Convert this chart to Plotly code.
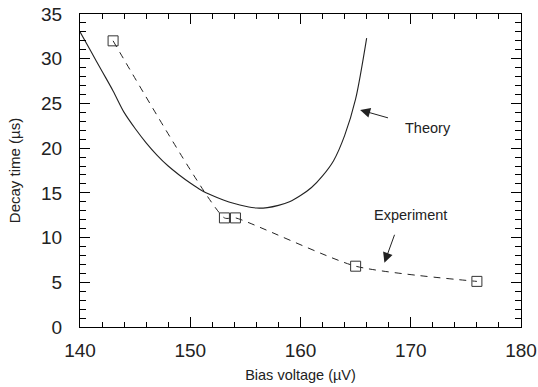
import plotly.graph_objects as go

# Theoretical decay time vs bias voltage (solid curve)
theory_bias = [140, 141, 142, 143, 144, 145, 146, 147, 148, 149, 150, 151, 152,
               153, 154, 155, 156, 157, 158, 159, 160, 161, 162, 163, 164, 165, 166]
theory_decay = [33.0, 30.8, 28.6, 26.4, 24.0, 22.2, 20.6, 19.2, 18.0, 17.0, 16.1, 15.3, 14.7,
                14.2, 13.8, 13.5, 13.3, 13.35, 13.6, 14.0, 14.7, 15.6, 16.9, 18.6, 21.4, 25.5, 32.3]

# Measured decay times (open squares, dashed)
exp_bias = [143.0, 153.1, 154.1, 165.0, 176.0]
exp_decay = [32.0, 12.2, 12.2, 6.8, 5.1]

# Axis ranges and tick spacing
x_range = [140, 180]
y_range = [0, 35]
x_major, x_minor = 10, 2
y_major, y_minor = 5, 1

FONT = "Liberation Sans, Arial, sans-serif"
INK = "#222222"

fig = go.Figure()

fig.add_trace(go.Scatter(
    x=theory_bias, y=theory_decay, mode="lines",
    line=dict(color=INK, width=1.1, shape="spline", smoothing=0.8),
    showlegend=False, hoverinfo="skip",
))

fig.add_trace(go.Scatter(
    x=exp_bias, y=exp_decay, mode="lines+markers",
    line=dict(color=INK, width=1, dash="7px,6px", shape="spline", smoothing=0.6),
    marker=dict(symbol="square-open", size=10, color="#333333", line=dict(width=1)),
    showlegend=False, hoverinfo="skip",
))

# Curve labels with arrows
fig.add_annotation(x=165.41, y=24.27, ax=168.07, ay=23.34, axref="x", ayref="y",
                   xref="x", yref="y", text="", showarrow=True,
                   arrowhead=2, arrowsize=2, arrowwidth=1, arrowcolor=INK)
fig.add_annotation(x=171.6, y=22.3, xref="x", yref="y", text="Theory",
                   showarrow=False, font=dict(family=FONT, size=14.5, color=INK))

fig.add_annotation(x=167.61, y=7.19, ax=168.58, ay=10.48, axref="x", ayref="y",
                   xref="x", yref="y", text="", showarrow=True,
                   arrowhead=2, arrowsize=2, arrowwidth=1, arrowcolor=INK)
fig.add_annotation(x=170.0, y=12.53, xref="x", yref="y", text="Experiment",
                   showarrow=False, font=dict(family=FONT, size=14.5, color=INK))

# Framed axes with inward major/minor ticks on all four sides
axis_common = dict(
    showgrid=False, zeroline=False, showline=True, linecolor="black", linewidth=1,
    mirror="allticks", ticks="inside", tickcolor="black", tickwidth=1.4, ticklen=10,
    tickfont=dict(family=FONT, size=19, color=INK),
    tickmode="linear", automargin=False, layer="above traces",
)

fig.update_xaxes(
    range=x_range, tick0=x_range[0], dtick=x_major,
    minor=dict(tick0=x_range[0], dtick=x_minor, ticks="inside", ticklen=5,
               tickcolor="black", tickwidth=1.4, showgrid=False),
    title=dict(text="Bias voltage (\u00b5V)", font=dict(family=FONT, size=14.5, color=INK),
               standoff=10),
    ticklabelstandoff=6,
    **axis_common,
)
fig.update_yaxes(
    range=y_range, tick0=y_range[0], dtick=y_major,
    minor=dict(tick0=y_range[0], dtick=y_minor, ticks="inside", ticklen=6,
               tickcolor="black", tickwidth=1.4, showgrid=False),
    title=dict(text="Decay time (\u00b5s)", font=dict(family=FONT, size=15, color=INK),
               standoff=16),
    ticklabelstandoff=13,
    **axis_common,
)

fig.update_layout(
    template="none",
    width=538, height=387,
    margin=dict(l=80, r=17, t=14, b=60, autoexpand=False),
    paper_bgcolor="white", plot_bgcolor="white",
    font=dict(family=FONT, color=INK),
    showlegend=False,
)

fig.write_html("out.html")
